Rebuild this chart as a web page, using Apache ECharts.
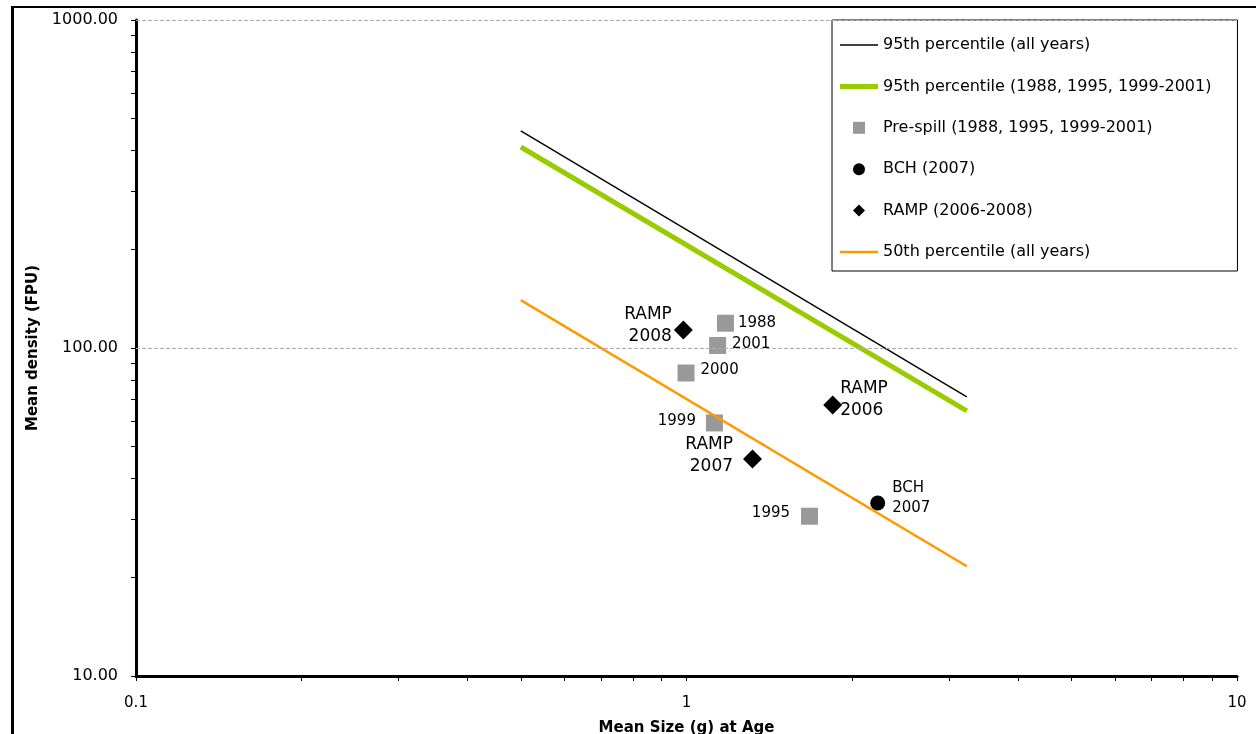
<!DOCTYPE html>
<html>
<head>
<meta charset="utf-8">
<script src="https://cdn.jsdelivr.net/npm/echarts@6/dist/echarts.min.js"></script>
<style>
  html, body { margin: 0; padding: 0; background: #fff; }
  #frame { position: absolute; left: 11px; top: 6px; width: 1260px; height: 740px; border: 3px solid #000; border-width: 2px 0 0 3px; }
  #chart { position: absolute; left: 0; top: 0; width: 1256px; height: 734px; }
</style>
</head>
<body>
<div id="frame"></div>
<div id="chart"></div>
<script>
// tick values (log axes)
var xTickValues = [0.1, 0.2, 0.3, 0.4, 0.5, 0.6, 0.7, 0.8, 0.9, 1, 2, 3, 4, 5, 6, 7, 8, 9, 10]
var yTickValues = [10, 20, 30, 40, 50, 60, 70, 80, 90, 100, 200, 300, 400, 500, 600, 700, 800, 900, 1000]
var xLabelValues = [0.1, 1, 10]
var yLabelValues = [10, 100, 1000]
var yGridValues = [100, 1000]

// percentile lines (start / end)
var lineX = [0.5, 3.23]
var pct95All = [459, 71]
var pct95Pre = [410, 64.3]
var pct50All = [140, 21.6]

// pre-spill years
var preX = [1.177, 1.139, 0.998, 1.124, 1.673]
var preY = [119, 101.8, 83.9, 59.1, 30.7]
var preLabels = ['1988', '2001', '2000', '1999', '1995']

// BCH 2007
var bchX = [2.225]
var bchY = [33.7]
var bchLabels = ['BCH\n2007']

// RAMP 2006-2008
var rampX = [0.987, 1.318, 1.843]
var rampY = [113.5, 45.9, 67]
var rampLabels = ['RAMP\n2008', 'RAMP\n2007', 'RAMP\n2006']

var FONT = 'DejaVu Sans'

// where each point label goes
var labelPlace = {
  '1988': { position: 'right', distance: 4, offset: [0, 0] },
  '2001': { position: 'right', distance: 6, offset: [0, -1] },
  '2000': { position: 'right', distance: 6, offset: [0, -3] },
  '1999': { position: 'left', distance: 10, offset: [0, -2] },
  '1995': { position: 'left', distance: 11, offset: [0, -3] },
  'BCH\n2007': { position: 'right', distance: 7, offset: [0, -5] },
  'RAMP\n2008': { position: 'left', distance: 2, offset: [0, -4] },
  'RAMP\n2007': { position: 'left', distance: 10, offset: [0, -3] },
  'RAMP\n2006': { position: 'right', distance: -2, offset: [0, -5] }
}

function pairs(xs, ys) {
  return xs.map(function (x, i) { return [x, ys[i]] })
}

function labelled(xs, ys, labels, fontSize) {
  return xs.map(function (x, i) {
    var p = labelPlace[labels[i]]
    return {
      value: [x, ys[i]],
      label: {
        show: true,
        formatter: labels[i],
        position: p.position,
        distance: p.distance,
        offset: p.offset,
        color: '#000',
        fontFamily: FONT,
        fontSize: fontSize,
        lineHeight: fontSize + 5,
        align: p.position === 'left' ? 'right' : 'left'
      }
    }
  })
}

var chart = echarts.init(document.getElementById('chart'), null, { renderer: 'canvas' })

chart.setOption({
  animation: false,
  backgroundColor: 'transparent',
  grid: { left: 136, right: 19, top: 20, bottom: 58, outerBoundsMode: 'none', containLabel: false },
  legend: {
    orient: 'vertical',
    left: 832,
    top: 20,
    padding: [17, 26, 11, 8],
    itemGap: 25.4,
    itemWidth: 38,
    itemHeight: 12,
    symbolKeepAspect: true,
    borderColor: '#000',
    borderWidth: 1,
    backgroundColor: '#fff',
    textStyle: { fontFamily: FONT, fontSize: 16, color: '#000' },
    data: [
      { name: '95th percentile (all years)', icon: 'path://M0,0L38,0L38,1.3L0,1.3Z' },
      { name: '95th percentile (1988, 1995, 1999-2001)', icon: 'path://M0,0L38,0L38,5L0,5Z' },
      { name: 'Pre-spill (1988, 1995, 1999-2001)', icon: 'path://M0,0L1,0L1,1L0,1Z' },
      { name: 'BCH (2007)', icon: 'circle' },
      { name: 'RAMP (2006-2008)', icon: 'path://M1,0L2,1L1,2L0,1Z' },
      { name: '50th percentile (all years)', icon: 'path://M0,0L38,0L38,2.5L0,2.5Z' }
    ]
  },
  xAxis: {
    type: 'log',
    logBase: 10,
    min: 0.1,
    max: 10,
    name: 'Mean Size (g) at Age',
    nameLocation: 'middle',
    nameGap: 45,
    nameTextStyle: { fontFamily: FONT, fontSize: 15, fontWeight: 'bold', color: '#000' },
    axisLine: { show: true, onZero: false, lineStyle: { color: '#000', width: 3 } },
    axisTick: { show: true, inside: false, length: 5, customValues: xTickValues, lineStyle: { color: '#000', width: 1 } },
    axisLabel: {
      customValues: xLabelValues,
      margin: 20,
      fontFamily: FONT,
      fontSize: 15,
      color: '#000',
      formatter: function (v) { return String(v) }
    },
    splitLine: { show: false }
  },
  yAxis: {
    type: 'log',
    logBase: 10,
    min: 10,
    max: 1000,
    name: 'Mean density (FPU)',
    nameLocation: 'middle',
    nameGap: 90,
    nameTextStyle: { fontFamily: FONT, fontSize: 15, fontWeight: 'bold', color: '#000' },
    axisLine: { show: true, onZero: false, lineStyle: { color: '#000', width: 3 } },
    axisTick: { show: true, inside: false, length: 5, customValues: yTickValues, lineStyle: { color: '#000', width: 1 } },
    axisLabel: {
      customValues: yLabelValues,
      margin: 18,
      fontFamily: FONT,
      fontSize: 16,
      color: '#000',
      formatter: function (v) { return Number(v).toFixed(2) }
    },
    splitLine: { show: false }
  },
  series: [
    {
      name: '95th percentile (all years)',
      type: 'line',
      symbol: 'none',
      color: '#000',
      lineStyle: { color: '#000', width: 1.4 },
      data: pairs(lineX, pct95All),
      // gridlines at the decades
      markLine: {
        silent: true,
        symbol: ['none', 'none'],
        label: { show: false },
        lineStyle: { color: '#b0b0b0', width: 1, type: 'dashed' },
        data: yGridValues.map(function (v) { return { yAxis: v } })
      },
      z: 1
    },
    {
      name: '95th percentile (1988, 1995, 1999-2001)',
      type: 'line',
      symbol: 'none',
      color: '#99cc00',
      lineStyle: { color: '#99cc00', width: 5 },
      data: pairs(lineX, pct95Pre)
    },
    {
      name: '50th percentile (all years)',
      type: 'line',
      symbol: 'none',
      color: '#ff9900',
      lineStyle: { color: '#ff9900', width: 2.5 },
      data: pairs(lineX, pct50All)
    },
    {
      name: 'Pre-spill (1988, 1995, 1999-2001)',
      type: 'scatter',
      symbol: 'rect',
      symbolSize: 17,
      itemStyle: { color: '#999999', opacity: 1 },
      data: labelled(preX, preY, preLabels, 15)
    },
    {
      name: 'BCH (2007)',
      type: 'scatter',
      symbol: 'circle',
      symbolSize: 15,
      itemStyle: { color: '#000', opacity: 1 },
      data: labelled(bchX, bchY, bchLabels, 15)
    },
    {
      name: 'RAMP (2006-2008)',
      type: 'scatter',
      symbol: 'diamond',
      symbolSize: [19, 19],
      itemStyle: { color: '#000', opacity: 1 },
      data: labelled(rampX, rampY, rampLabels, 17)
    }
  ]
})
</script>
</body>
</html>
